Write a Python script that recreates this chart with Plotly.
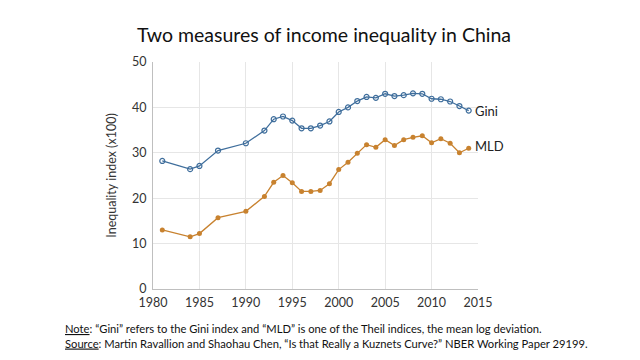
import plotly.graph_objects as go

years = [1981, 1984, 1985, 1987, 1990, 1992, 1993, 1994, 1995, 1996, 1997, 1998, 1999,
         2000, 2001, 2002, 2003, 2004, 2005, 2006, 2007, 2008, 2009, 2010, 2011, 2012, 2013, 2014]
gini = [28.2, 26.4, 27.1, 30.5, 32.1, 34.9, 37.4, 38.0, 37.1, 35.4, 35.4, 36.0, 36.9,
        39.0, 40.0, 41.4, 42.3, 42.1, 43.0, 42.5, 42.7, 43.1, 43.0, 41.9, 41.8, 41.3, 40.3, 39.3]
mld = [13.0, 11.5, 12.2, 15.7, 17.1, 20.4, 23.5, 25.0, 23.4, 21.5, 21.5, 21.7, 23.2,
       26.3, 27.9, 29.9, 31.8, 31.2, 32.9, 31.6, 32.9, 33.4, 33.75, 32.2, 33.1, 32.1, 30.0, 31.0]
x_ticks = [1980, 1985, 1990, 1995, 2000, 2005, 2010, 2015]
y_ticks = [0, 10, 20, 30, 40, 50]

blue = "#3F6E9C"
orange = "#C8822F"
font = "Lato"

fig = go.Figure()
fig.add_trace(go.Scatter(x=years, y=gini, mode="lines+markers", name="Gini",
                         line=dict(color=blue, width=1.3),
                         marker=dict(symbol="circle-open", size=5, color=blue, line=dict(width=1.2))))
fig.add_trace(go.Scatter(x=years, y=mld, mode="lines+markers", name="MLD",
                         line=dict(color=orange, width=1.3),
                         marker=dict(symbol="circle", size=5, color=orange)))

fig.add_annotation(x=years[-1], y=gini[-1], text="Gini", showarrow=False, xanchor="left",
                   xshift=4, font=dict(family=font, size=13, color="#222"))
fig.add_annotation(x=years[-1], y=mld[-1], text="MLD", showarrow=False, xanchor="left",
                   xshift=4, yshift=2, font=dict(family=font, size=13, color="#222"))

fig.add_annotation(xref="paper", yref="paper", x=-0.277, y=-0.137, xanchor="left", yanchor="top",
                   align="left", showarrow=False,
                   text="<u>Note</u>: \u201cGini\u201d refers to the Gini index and \u201cMLD\u201d is one of the Theil indices, the mean log deviation.<br>"
                        "<u>Source</u>: Martin Ravallion and Shaohau Chen, \u201cIs that Really a Kuznets Curve?\u201d NBER Working Paper 29199.",
                   font=dict(family=font, size=11.2, color="#111"))

fig.update_layout(
    width=632, height=352,
    margin=dict(l=145, r=162, t=54, b=71),
    paper_bgcolor="white", plot_bgcolor="white",
    showlegend=False,
    title=dict(text="Two measures of income inequality in China", x=0.5, xanchor="center",
               y=0.923, yanchor="middle", font=dict(family=font, size=19.5, color="#111")),
    font=dict(family=font, size=12, color="#333"),
)
fig.update_xaxes(range=[1980, 2015], tickvals=x_ticks, showgrid=True, gridcolor="#E6E6E6",
                 zeroline=False, showline=True, linecolor="#BFBFBF", ticks="",
                 ticklabelstandoff=2,
                 tickfont=dict(family=font, size=12.5, color="#333"))
fig.update_yaxes(range=[0, 50], tickvals=y_ticks, showgrid=True, gridcolor="#E6E6E6",
                 zeroline=False, showline=True, linecolor="#BFBFBF", ticks="",
                 ticklabelstandoff=3,
                 title=dict(text="Inequality index (x100)", font=dict(family=font, size=12.5, color="#333"), standoff=12),
                 tickfont=dict(family=font, size=12.5, color="#333"))

fig.write_html("out.html")
